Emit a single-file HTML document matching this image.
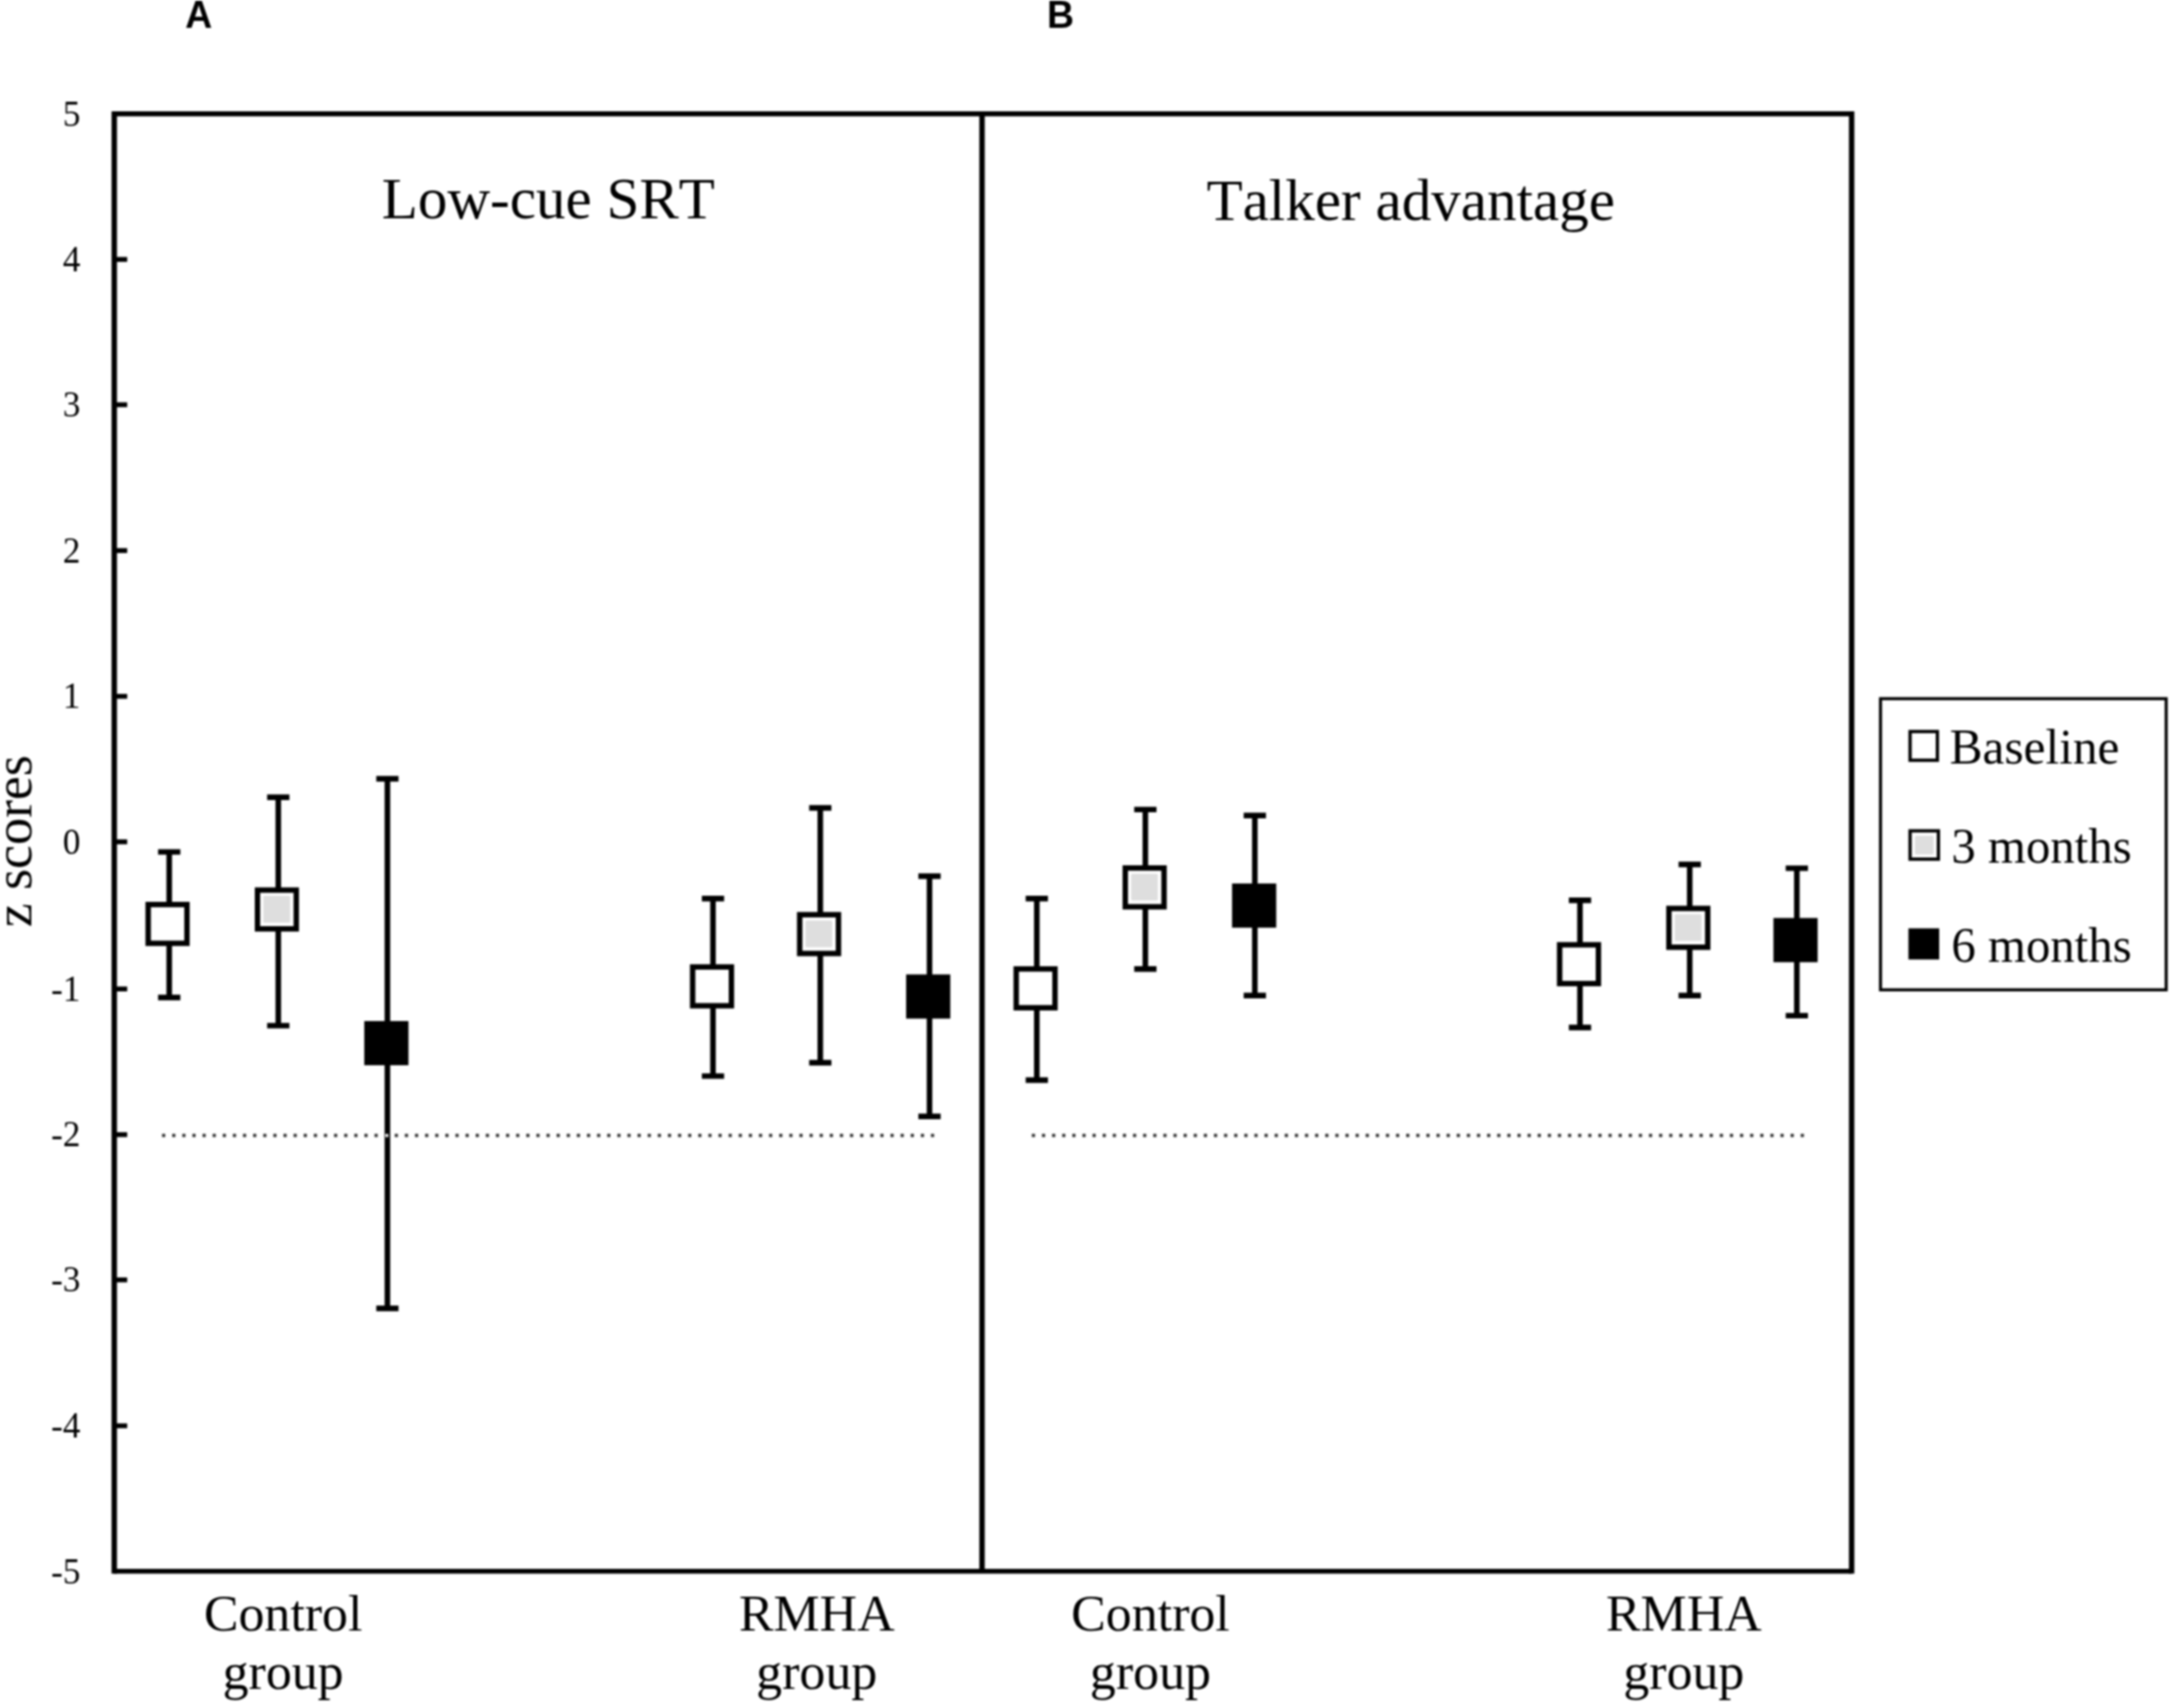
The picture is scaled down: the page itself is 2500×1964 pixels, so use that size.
<!DOCTYPE html>
<html lang="en"><head><meta charset="utf-8"><title>Figure</title>
<style>html,body{margin:0;padding:0;background:#fff;}body{width:2500px;height:1964px;overflow:hidden;}svg{display:block;filter:blur(0.8px);}.s{font-family:"Liberation Serif","Times New Roman",serif;fill:#000;font-kerning:none;font-variant-ligatures:none;}.b{font-family:"Liberation Sans",Arial,sans-serif;font-weight:bold;fill:#000;font-kerning:none;}</style></head><body>
<svg width="2500" height="1964" viewBox="0 0 2500 1964">
<rect x="0" y="0" width="2500" height="1964" fill="#fff"/>
<text class="b" font-size="43" transform="translate(213 32) scale(1 1.04)">A</text>
<text class="b" font-size="43" transform="translate(1204 32) scale(1 1.04)">B</text>
<g stroke="#333" stroke-width="3.7" stroke-dasharray="3.7 7.934">
<line x1="186.35" y1="1305.7" x2="1074.3" y2="1305.7"/>
<line x1="1186.55" y1="1305.7" x2="2074.5" y2="1305.7"/>
</g>
<g fill="none" stroke="#000" stroke-width="6.2">
<path d="M131.4 128.1V1809.6M2129.3 128.1V1809.6M1129.3 130.9V1806.8"/>
</g>
<g fill="none" stroke="#000" stroke-width="5.6">
<path d="M131.4 130.9H2129.3M131.4 1806.8H2129.3"/>
<line x1="131.4" y1="1639.5" x2="146.3" y2="1639.5"/>
<line x1="131.4" y1="1471.7" x2="146.3" y2="1471.7"/>
<line x1="131.4" y1="1304.7" x2="146.3" y2="1304.7"/>
<line x1="131.4" y1="1137.2" x2="146.3" y2="1137.2"/>
<line x1="131.4" y1="968.0" x2="146.3" y2="968.0"/>
<line x1="131.4" y1="800.7" x2="146.3" y2="800.7"/>
<line x1="131.4" y1="633.1" x2="146.3" y2="633.1"/>
<line x1="131.4" y1="465.4" x2="146.3" y2="465.4"/>
<line x1="131.4" y1="298.3" x2="146.3" y2="298.3"/>
</g>
<g class="s" font-size="40.5" text-anchor="end">
<text transform="translate(92.5 1820.5) scale(1 1.015)">-5</text>
<text transform="translate(92.5 1653.2) scale(1 1.015)">-4</text>
<text transform="translate(92.5 1485.4) scale(1 1.015)">-3</text>
<text transform="translate(92.5 1318.4) scale(1 1.015)">-2</text>
<text transform="translate(92.5 1150.9) scale(1 1.015)">-1</text>
<text transform="translate(92.5 981.7) scale(1 1.015)">0</text>
<text transform="translate(92.5 814.4) scale(1 1.015)">1</text>
<text transform="translate(92.5 646.8) scale(1 1.015)">2</text>
<text transform="translate(92.5 479.1) scale(1 1.015)">3</text>
<text transform="translate(92.5 312.0) scale(1 1.015)">4</text>
<text transform="translate(92.5 144.6) scale(1 1.015)">5</text>
</g>
<text class="s" font-size="62" text-anchor="middle" transform="translate(36.3 967.3) rotate(-90)">z scores</text>
<text class="s" font-size="67.5" text-anchor="middle" transform="translate(630.5 250.6) scale(1.007 1)">Low-cue SRT</text>
<text class="s" font-size="67.5" text-anchor="middle" transform="translate(1622.3 253.2) scale(1.007 1)">Talker advantage</text>
<g class="s" font-size="59.7" text-anchor="middle">
<text x="325.6" y="1875.1">Control</text><text x="325.6" y="1942.1">group</text>
<text x="939.2" y="1875.1">RMHA</text><text x="939.2" y="1942.1">group</text>
<text x="1323" y="1875.1">Control</text><text x="1323" y="1942.1">group</text>
<text x="1936.3" y="1875.1">RMHA</text><text x="1936.3" y="1942.1">group</text>
</g>
<g stroke="#000" stroke-width="6.4" fill="none">
<path d="M194.6 979.6V1147.0M181.8 979.6H207.4M181.8 1147.0H207.4"/>
<path d="M320.0 916.8V1179.4M307.2 916.8H332.8M307.2 1179.4H332.8"/>
<path d="M445.5 895.5V1504.5M432.7 895.5H458.3M432.7 1504.5H458.3"/>
<path d="M819.9 1033.3V1237.4M807.1 1033.3H832.7M807.1 1237.4H832.7"/>
<path d="M943.3 929.0V1222.0M930.5 929.0H956.1M930.5 1222.0H956.1"/>
<path d="M1068.9 1007.5V1283.8M1056.1 1007.5H1081.7M1056.1 1283.8H1081.7"/>
<path d="M1192.3 1033.3V1242.0M1179.5 1033.3H1205.1M1179.5 1242.0H1205.1"/>
<path d="M1317.1 930.9V1114.3M1304.3 930.9H1329.9M1304.3 1114.3H1329.9"/>
<path d="M1443.0 937.8V1144.7M1430.2 937.8H1455.8M1430.2 1144.7H1455.8"/>
<path d="M1816.9 1035.2V1181.5M1804.1 1035.2H1829.7M1804.1 1181.5H1829.7"/>
<path d="M1943.1 994.0V1144.7M1930.3 994.0H1955.9M1930.3 1144.7H1955.9"/>
<path d="M2066.3 998.4V1167.9M2053.5 998.4H2079.1M2053.5 1167.9H2079.1"/>
</g>
<rect x="442.9" y="1303.8500000000001" width="3.7" height="3.7" fill="#e8e8e8"/>
<g stroke="#000" stroke-width="6.2">
<rect x="170.4" y="1040.1" width="44.6" height="44.6" fill="#fff"/>
<rect x="296.1" y="1023.5" width="44.6" height="44.6" fill="#fff"/>
<rect x="422.0" y="1177.2" width="44.6" height="44.6" fill="#000"/>
<rect x="796.5" y="1111.9" width="44.6" height="44.6" fill="#fff"/>
<rect x="919.6" y="1051.8" width="44.6" height="44.6" fill="#fff"/>
<rect x="1045.1" y="1123.6" width="44.6" height="44.6" fill="#000"/>
<rect x="1168.6" y="1114.2" width="44.6" height="44.6" fill="#fff"/>
<rect x="1294.0" y="998.1" width="44.6" height="44.6" fill="#fff"/>
<rect x="1419.9" y="1019.0" width="44.6" height="44.6" fill="#000"/>
<rect x="1793.5" y="1086.4" width="44.6" height="44.6" fill="#fff"/>
<rect x="1919.2" y="1044.6" width="44.6" height="44.6" fill="#fff"/>
<rect x="2042.5" y="1058.7" width="44.6" height="44.6" fill="#000"/>
</g>
<g fill="#dedede">
<rect x="302.8" y="1030.1" width="30.8" height="30.8" rx="1.5"/>
<rect x="926.3" y="1058.4" width="30.8" height="30.8" rx="1.5"/>
<rect x="1300.7" y="1004.7" width="30.8" height="30.8" rx="1.5"/>
<rect x="1925.9" y="1051.2" width="30.8" height="30.8" rx="1.5"/>
</g>
<rect x="2162.5" y="803.4" width="328.5" height="334.8" fill="#fff" stroke="#000" stroke-width="3.5"/>
<g stroke="#000" stroke-width="3.8">
<rect x="2196.5" y="841.2" width="31.4" height="33" fill="#fff"/>
<rect x="2196.5" y="955.4" width="32.6" height="32.5" fill="#fff"/>
<rect x="2202" y="960.9" width="21.6" height="21.5" rx="1.5" fill="#dedede" stroke="none"/>
<rect x="2196.5" y="1069.4" width="31.6" height="32" fill="#000"/>
</g>
<g class="s" font-size="56.7">
<text x="2242" y="878.4">Baseline</text>
<text x="2244" y="992" font-size="56.1">3 months</text>
<text x="2244" y="1105.5" font-size="56.1">6 months</text>
</g>
</svg></body></html>
